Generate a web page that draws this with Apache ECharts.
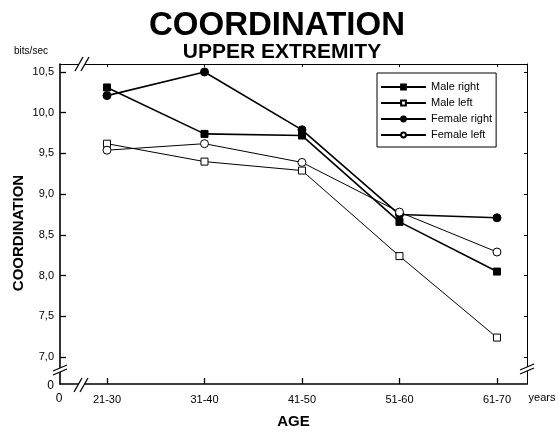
<!DOCTYPE html>
<html>
<head>
<meta charset="utf-8">
<script src="https://cdn.jsdelivr.net/npm/echarts@6/dist/echarts.min.js"></script>
<style>html,body{margin:0;padding:0;background:#fff;}#c{width:559px;height:434px;}</style>
</head>
<body>
<div id="c"></div>
<script>
var ages = ['21-30', '31-40', '41-50', '51-60', '61-70'];
var maleRight = [10.31, 9.74, 9.72, 8.66, 8.05];
var maleLeft = [9.62, 9.40, 9.29, 8.24, 7.24];
var femaleRight = [10.21, 10.50, 9.79, 8.75, 8.71];
var femaleLeft = [9.54, 9.62, 9.39, 8.78, 8.29];
var yTicks = [7.0, 7.5, 8.0, 8.5, 9.0, 9.5, 10.0, 10.5];
var xTicks = [1, 2, 3, 4, 5];

var FONT = "'Liberation Sans', Arial, sans-serif";

function toPts(arr) { return arr.map(function (v, i) { return [i + 1, v]; }); }

function hBreak(cx, cy) {
  var els = [];
  els.push({ type: 'polygon', z: 100, shape: { points: [[cx - 4.7, cy + 3], [cx - 1.3, cy - 3], [cx + 4.7, cy - 3], [cx + 1.3, cy + 3]] }, style: { fill: '#fff' } });
  [-3, 3].forEach(function (o) {
    els.push({ type: 'line', z: 101, shape: { x1: cx + o - 4, y1: cy + 7, x2: cx + o + 4, y2: cy - 7 }, style: { stroke: '#000', lineWidth: 1.3 } });
  });
  return els;
}
function vBreak(cx, cy) {
  var els = [];
  els.push({ type: 'polygon', z: 100, shape: { points: [[cx - 3, cy - 2 + 1.3], [cx + 3, cy - 2 - 1.3], [cx + 3, cy + 2 - 1.3], [cx - 3, cy + 2 + 1.3]] }, style: { fill: '#fff' } });
  [-2, 2].forEach(function (o) {
    els.push({ type: 'line', z: 101, shape: { x1: cx - 7, y1: cy + o + 3, x2: cx + 7, y2: cy + o - 3 }, style: { stroke: '#000', lineWidth: 1.3 } });
  });
  return els;
}
function txt(s, x, y, size, weight, align, extra) {
  var o = { type: 'text', z: 110, x: x, y: y, style: { text: s, fill: '#000', font: (weight || 'normal') + ' ' + size + 'px ' + FONT, align: align || 'center', verticalAlign: 'middle', textAlign: align || 'center', textVerticalAlign: 'middle' } };
  if (extra) { for (var k in extra) o[k] = extra[k]; }
  return o;
}

var chart = echarts.init(document.getElementById('c'), null, { renderer: 'canvas' });

var graphics = [].concat(
  hBreak(82, 64), hBreak(81, 385), vBreak(60, 370), vBreak(527, 369),
  [
    txt('COORDINATION', 277, 26, 33, 'bold'),
    txt('UPPER EXTREMITY', 282, 52, 21, 'bold'),
    txt('bits/sec', 31, 51, 10, 'normal'),
    txt('years', 542, 398, 11, 'normal'),
    txt('0', 54, 386, 12, 'normal', 'right'),
    txt('0', 59, 399, 12, 'normal'),
    txt('COORDINATION', 19, 233, 15, 'bold', 'center', { rotation: Math.PI / 2 })
  ]
);

function mkSeries(name, data, symbol, filled, width, size) {
  return {
    name: name, type: 'line', data: toPts(data), symbol: symbol, symbolSize: size,
    showSymbol: true, animation: false,
    lineStyle: { color: '#000', width: width },
    itemStyle: { color: filled ? '#000' : '#fff', borderColor: '#000', borderWidth: 1 },
    emphasis: { disabled: true }
  };
}

chart.setOption({
  animation: false,
  backgroundColor: '#fff',
  textStyle: { fontFamily: FONT },
  grid: { left: 60, right: 32, top: 64, bottom: 49, containLabel: false },
  legend: {
    orient: 'vertical', left: 377, top: 73,
    padding: [8, 4, 6, 3], itemGap: 4, itemWidth: 45, itemHeight: 6,
    borderColor: '#000', borderWidth: 1, backgroundColor: '#fff',
    textStyle: { fontSize: 11, color: '#000', fontFamily: FONT, lineHeight: 12 },
    data: ['Male right', 'Male left', 'Female right', 'Female left']
  },
  xAxis: [
    {
      type: 'value', position: 'bottom', min: 0.518, max: 5.308,
      axisLine: { show: true, onZero: false, lineStyle: { color: '#000', width: 1.6 } },
      axisTick: { show: true, inside: true, length: 6, customValues: xTicks, lineStyle: { color: '#000', width: 1.3 } },
      axisLabel: { show: true, customValues: xTicks, margin: 10, fontSize: 11, color: '#000', fontFamily: FONT,
        formatter: function (v) { return ages[Math.round(v) - 1]; } },
      splitLine: { show: false },
      name: 'AGE', nameLocation: 'middle', nameGap: 30,
      nameTextStyle: { fontWeight: 'bold', fontSize: 15, color: '#000', fontFamily: FONT }
    },
    {
      type: 'value', position: 'top', min: 0.518, max: 5.308,
      axisLine: { show: true, onZero: false, lineStyle: { color: '#000', width: 1 } },
      axisTick: { show: true, inside: true, length: 3, customValues: xTicks, lineStyle: { color: '#000', width: 1 } },
      axisLabel: { show: false }, splitLine: { show: false }
    }
  ],
  yAxis: [
    {
      type: 'value', position: 'left', min: 6.67, max: 10.598,
      axisLine: { show: true, onZero: false, lineStyle: { color: '#000', width: 1.6 } },
      axisTick: { show: true, inside: true, length: 6, customValues: yTicks, lineStyle: { color: '#000', width: 1.3 } },
      axisLabel: { show: true, customValues: yTicks, margin: 6, fontSize: 11, color: '#000', fontFamily: FONT,
        formatter: function (v) { return v.toFixed(1).replace('.', ','); } },
      splitLine: { show: false }
    },
    {
      type: 'value', position: 'right', min: 6.67, max: 10.598,
      axisLine: { show: true, onZero: false, lineStyle: { color: '#000', width: 1 } },
      axisTick: { show: true, inside: true, length: 3, customValues: yTicks, lineStyle: { color: '#000', width: 1 } },
      axisLabel: { show: false }, splitLine: { show: false }
    }
  ],
  series: [
    mkSeries('Male right', maleRight, 'rect', true, 1.6, 7),
    mkSeries('Male left', maleLeft, 'rect', false, 1, 7),
    mkSeries('Female right', femaleRight, 'circle', true, 1.6, 8),
    mkSeries('Female left', femaleLeft, 'circle', false, 1, 8)
  ],
  graphic: graphics
});
</script>
</body>
</html>
